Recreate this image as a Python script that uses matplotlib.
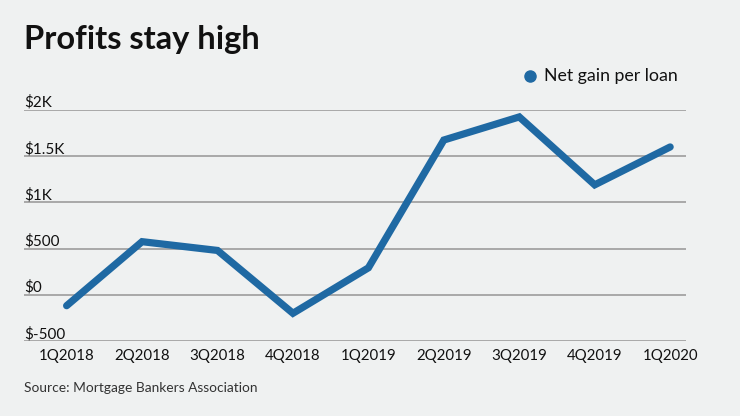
import matplotlib.pyplot as plt

# data
quarters = ['1Q2018', '2Q2018', '3Q2018', '4Q2018', '1Q2019',
            '2Q2019', '3Q2019', '4Q2019', '1Q2020']
net_gain = [-118, 575, 480, -200, 292, 1675, 1925, 1190, 1600]
y_ticks = [-500, 0, 500, 1000, 1500, 2000]
y_labels = ['$-500', '$0', '$500', '$1K', '$1.5K', '$2K']

bg = '#eff1f1'
blue = '#1f69a3'
font = 'Lato'

fig = plt.figure(figsize=(7.4, 4.16), dpi=100, facecolor=bg)
ax = fig.add_axes([24 / 740, 1 - 341 / 416, 662 / 740, 231 / 416])
ax.set_facecolor(bg)

x = range(len(quarters))
ax.plot(x, net_gain, color=blue, linewidth=5.2, solid_capstyle='round',
        solid_joinstyle='miter', zorder=3)

ax.set_ylim(-500, 2000)
ax.set_xlim(-0.565, 8.21)
ax.set_yticks(y_ticks)
ax.set_yticklabels([])
for v in y_ticks:
    ax.axhline(v, color='#959595', linewidth=1.1, zorder=1)
for v, lab in zip(y_ticks, y_labels):
    ax.text(0, v, lab, transform=ax.get_yaxis_transform(), ha='left',
            va='bottom', fontsize=11, family=font, color='#111111')

ax.set_xticks(list(x))
ax.set_xticklabels(quarters, fontsize=10.8, family=font, color='#111111')
ax.tick_params(axis='both', length=0)
ax.tick_params(axis='x', pad=6)
for s in ax.spines.values():
    s.set_visible(False)

fig.text(24 / 740, 1 - 39 / 416, 'Profits stay high', fontsize=23.5,
         fontweight='bold', family=font, color='#111111', va='center', ha='left')

# legend
fig.lines.append(plt.Line2D([530 / 740], [1 - 76 / 416], marker='o', markersize=8,
                            color=blue, linestyle='none', transform=fig.transFigure))
fig.text(544 / 740, 1 - 76 / 416, 'Net gain per loan', fontsize=12.8, family=font,
         color='#111111', va='center', ha='left')

fig.text(24 / 740, 1 - 388 / 416, 'Source: Mortgage Bankers Association',
         fontsize=9.9, family=font, color='#333333', va='center', ha='left')

fig.savefig('out.png', dpi=100, facecolor=bg)
